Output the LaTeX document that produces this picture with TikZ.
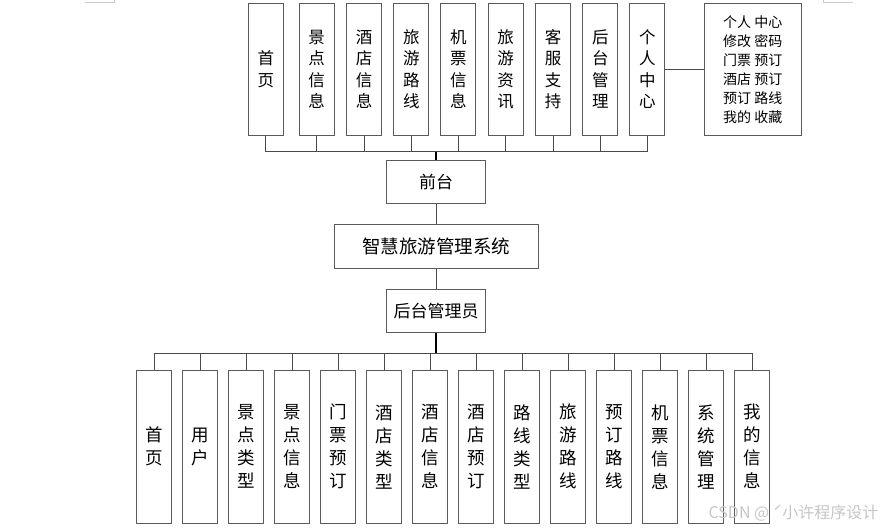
\documentclass[tikz,border=0pt]{standalone}
\usepackage{fontspec}
\setmainfont{Noto Sans CJK SC}
\definecolor{boxc}{HTML}{5A5A5A}
\definecolor{linec}{HTML}{4A4A4A}
\begin{document}
\begin{tikzpicture}[x=1pt,y=-1pt,
  box/.style={draw=boxc, line width=1pt, fill=white, inner sep=0pt, align=center},
  vtop/.style={box, minimum width=35pt, minimum height=131.7pt, font=\fontsize{16.5}{21.5}\selectfont},
  vbot/.style={box, minimum width=35.3pt, minimum height=153.3pt, font=\fontsize{17.5}{23}\selectfont},
  mid/.style={box, minimum height=43.3pt, font=\fontsize{17}{20}\selectfont},
  conn/.style={draw=linec, line width=1pt},
  trunk/.style={draw=black, line width=1.6pt},
  pagemark/.style={draw=gray!40, line width=0.8pt}]
\useasboundingbox (0,0) rectangle (886,529);
\fill[white] (0,0) rectangle (886,529);
% page corner marks
\draw[pagemark] (85,2.5) -- (114.3,2.5) -- (114.3,0);
\draw[pagemark] (823.3,0) -- (823.3,2.5) -- (852.7,2.5);
% top boxes
\node[vtop] (t1) at (265.8,69.2) {首\\页};
\node[vtop] (t2) at (316.7,69.2) {景\\点\\信\\息};
\node[vtop] (t3) at (364,69.2) {酒\\店\\信\\息};
\node[vtop] (t4) at (411.3,69.2) {旅\\游\\路\\线};
\node[vtop] (t5) at (458.3,69.2) {机\\票\\信\\息};
\node[vtop] (t6) at (505.7,69.2) {旅\\游\\资\\讯};
\node[vtop] (t7) at (553,69.2) {客\\服\\支\\持};
\node[vtop] (t8) at (600.3,69.2) {后\\台\\管\\理};
\node[vtop] (t9) at (647.3,69.2) {个\\人\\中\\心};
\node[box, minimum width=96.7pt, minimum height=131.7pt, font=\fontsize{14}{19}\selectfont] (pc) at (752.7,69.2)
  {个人 中心\\修改 密码\\门票 预订\\酒店 预订\\预订 路线\\我的 收藏};
\draw[conn] (t9.east) -- (pc.west);
% middle
\node[mid, minimum width=99pt] (front) at (436.2,181.7) {前台};
\node[box, minimum width=204.3pt, minimum height=44.3pt, font=\fontsize{18.5}{22}\selectfont] (sys) at (436.2,246.2) {智慧旅游管理系统};
\node[mid, minimum width=99pt] (admin) at (436.2,311) {后台管理员};
\coordinate (busT) at (436.2,151.7);
\coordinate (busB) at (436.2,353.3);
\foreach \i in {1,...,9} { \draw[conn] (t\i.south) |- (busT); }
\draw[trunk] (busT) -- (front.north);
\draw[conn] (front.south) -- (sys.north);
\draw[conn] (sys.south) -- (admin.north);
\draw[trunk] (admin.south) -- (busB);
% bottom boxes
\foreach \i/\t in {0/{首\\页},1/{用\\户},2/{景\\点\\类\\型},3/{景\\点\\信\\息},4/{门\\票\\预\\订},5/{酒\\店\\类\\型},6/{酒\\店\\信\\息},7/{酒\\店\\预\\订},8/{路\\线\\类\\型},9/{旅\\游\\路\\线},10/{预\\订\\路\\线},11/{机\\票\\信\\息},12/{系\\统\\管\\理},13/{我\\的\\信\\息}} {
  \node[vbot] (b\i) at ({154.3+46*\i},446.7) {\t};
  \draw[conn] (busB) -| (b\i.north);
}
% watermark
\node[text=gray!45, font=\fontsize{16}{18}\selectfont, anchor=east] (wm) at (882,513) {CSDN @ ˊ小许程序设计};
\end{tikzpicture}
\end{document}
